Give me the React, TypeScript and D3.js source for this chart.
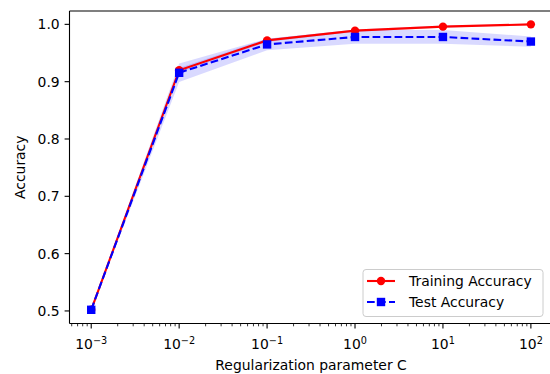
import React from "react";
import * as d3 from "d3";

// regularization strengths (log scale)
const cValues = [0.001, 0.01, 0.1, 1, 10, 100];
const trainMean = [0.502, 0.92, 0.972, 0.989, 0.996, 1.0];
const trainStd = [0.001, 0.004, 0.003, 0.002, 0.002, 0.001];
const testMean = [0.502, 0.9155, 0.965, 0.978, 0.978, 0.97];
const testStd = [0.001, 0.016, 0.01, 0.012, 0.012, 0.009];
const yTicks = [0.5, 0.6, 0.7, 0.8, 0.9, 1.0];
const xTickExps = [-3, -2, -1, 0, 1, 2];

const W = 550;
const H = 374;
const plot = { left: 69.5, top: 11, right: 552.6, bottom: 323.5 };
const FONT = "DejaVu Sans, sans-serif";

const App: React.FC = () => {
  const x = d3
    .scaleLog()
    .domain([Math.pow(10, -3.247), Math.pow(10, 2.247)])
    .range([plot.left, plot.right]);
  const y = d3
    .scaleLinear()
    .domain([0.4781, 1.0233])
    .range([plot.bottom, plot.top]);

  const line = d3
    .line<number>()
    .x((_, i) => x(cValues[i]))
    .y((d) => y(d));

  const band = (mean: number[], std: number[]) =>
    d3
      .area<number>()
      .x((_, i) => x(cValues[i]))
      .y0((d, i) => y(d - std[i]))
      .y1((d, i) => y(d + std[i]))(mean) || "";

  const minorTicks: number[] = [];
  for (let e = -4; e <= 2; e++) {
    for (let m = 2; m <= 9; m++) {
      const v = m * Math.pow(10, e);
      const [a, b] = x.domain();
      if (v >= a && v <= b) minorTicks.push(v);
    }
  }

  return (
    <svg
      width={W}
      height={H}
      style={{ position: "absolute", left: 0, top: 0, background: "#fff" }}
      fontFamily={FONT}
    >
      <defs>
        <clipPath id="plotClip">
          <rect x={plot.left} y={plot.top} width={plot.right - plot.left} height={plot.bottom - plot.top} />
        </clipPath>
      </defs>

      <g clipPath="url(#plotClip)">
        <path d={band(trainMean, trainStd)} fill="blue" fillOpacity={0.15} />
        <path d={band(testMean, testStd)} fill="blue" fillOpacity={0.15} />

        <path d={line(trainMean) || ""} fill="none" stroke="#ff0000" strokeWidth={2.1} />
        {trainMean.map((d, i) => (
          <circle key={"t" + i} cx={x(cValues[i])} cy={y(d)} r={4.2} fill="#ff0000" />
        ))}

        <path
          d={line(testMean) || ""}
          fill="none"
          stroke="#0000ff"
          strokeWidth={2.1}
          strokeDasharray="7.7 3.3"
        />
        {testMean.map((d, i) => (
          <rect
            key={"v" + i}
            x={x(cValues[i]) - 4.2}
            y={y(d) - 4.2}
            width={8.4}
            height={8.4}
            fill="#0000ff"
          />
        ))}
      </g>

      {/* spines */}
      <line x1={plot.left} x2={plot.left} y1={plot.top} y2={plot.bottom} stroke="#000" strokeWidth={1.1} />
      <line x1={plot.left} x2={W} y1={plot.bottom} y2={plot.bottom} stroke="#000" strokeWidth={1.1} />
      <line x1={plot.left} x2={W} y1={plot.top} y2={plot.top} stroke="#000" strokeWidth={1.1} />

      {/* y axis */}
      {yTicks.map((t) => (
        <g key={"y" + t}>
          <line x1={plot.left - 4.9} x2={plot.left} y1={y(t)} y2={y(t)} stroke="#000" strokeWidth={1.1} />
          <text x={plot.left - 9.8} y={y(t)} dy="0.36em" textAnchor="end" fontSize={13.9} fill="#000">
            {t.toFixed(1)}
          </text>
        </g>
      ))}

      {/* x axis */}
      {minorTicks.map((t) => (
        <line key={"m" + t} x1={x(t)} x2={x(t)} y1={plot.bottom} y2={plot.bottom + 2.8} stroke="#000" strokeWidth={0.8} />
      ))}
      {xTickExps.map((e) => {
        const px = x(Math.pow(10, e));
        return (
          <g key={"x" + e}>
            <line x1={px} x2={px} y1={plot.bottom} y2={plot.bottom + 4.9} stroke="#000" strokeWidth={1.1} />
            <text x={px} y={349} textAnchor="middle" fontSize={13.9} fill="#000">
              10
              <tspan fontSize={9.7} dy={-5.5}>
                {e < 0 ? "\u2212" + Math.abs(e) : String(e)}
              </tspan>
            </text>
          </g>
        );
      })}

      <text x={(plot.left + plot.right) / 2} y={370} textAnchor="middle" fontSize={13.9} fill="#000">
        Regularization parameter C
      </text>
      <text
        transform={`translate(25,${(plot.top + plot.bottom) / 2}) rotate(-90)`}
        textAnchor="middle"
        fontSize={13.9}
        fill="#000"
      >
        Accuracy
      </text>

      {/* legend */}
      <g>
        <rect x={363} y={269.5} width={180} height={47} rx={3} fill="#fff" fillOpacity={0.8} stroke="#cccccc" strokeWidth={1} />
        <line x1={367} x2={395} y1={281} y2={281} stroke="#ff0000" strokeWidth={2.1} />
        <circle cx={381} cy={281} r={4.2} fill="#ff0000" />
        <text x={409} y={281} dy="0.36em" fontSize={13.9} fill="#000">
          Training Accuracy
        </text>
        <line x1={367} x2={395} y1={302} y2={302} stroke="#0000ff" strokeWidth={2.1} strokeDasharray="7.7 3.3" />
        <rect x={381 - 4.2} y={302 - 4.2} width={8.4} height={8.4} fill="#0000ff" />
        <text x={409} y={302} dy="0.36em" fontSize={13.9} fill="#000">
          Test Accuracy
        </text>
      </g>
    </svg>
  );
};

export default App;
